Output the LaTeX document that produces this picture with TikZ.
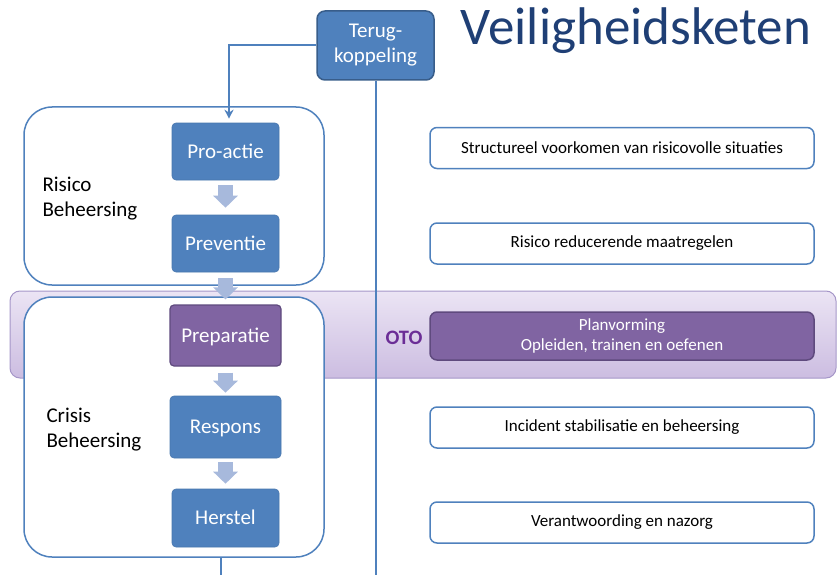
\documentclass[tikz,border=0pt]{standalone}
\usepackage{fontspec}
\setmainfont{Carlito}
\usetikzlibrary{arrows.meta, positioning}
\definecolor{ketblue}{HTML}{4F81BD}
\definecolor{ketdark}{HTML}{385D8A}
\definecolor{ketnavy}{HTML}{1F3F75}
\definecolor{ketlight}{HTML}{A7B9DC}
\definecolor{otopurple}{HTML}{8064A2}
\definecolor{otodark}{HTML}{5F4A7E}
\definecolor{ototext}{HTML}{6B2D96}
\definecolor{bandtop}{HTML}{EBE4F4}
\definecolor{bandbot}{HTML}{CCBDE1}
\definecolor{bandedge}{HTML}{A596C8}

\begin{document}
\begin{tikzpicture}[
  x=1pt, y=-1pt,
  >=Stealth,
  phase/.style={
    rectangle, rounded corners=4pt, fill=ketblue, draw=ketblue!92!black,
    line width=0.6pt, text=white, minimum width=107pt, minimum height=57pt,
    font=\fontsize{21}{25}\selectfont, inner sep=0pt, text depth=1pt
  },
  prep/.style={phase, fill=otopurple, draw=otodark, line width=1.2pt},
  group/.style={
    rectangle, rounded corners=28pt, draw=ketblue, fill=white,
    line width=1.5pt, minimum width=300pt, inner sep=0pt
  },
  desc/.style={
    rectangle, rounded corners=7pt, draw=ketblue, fill=white,
    line width=1.5pt, minimum width=384pt, minimum height=41pt,
    font=\fontsize{17}{20}\selectfont, align=center, inner sep=0pt
  },
  grouplabel/.style={anchor=west, align=left, font=\fontsize{21}{25}\selectfont},
  flow/.style={draw=ketlight, line width=15pt, -{Triangle[width=24pt, length=12pt]}},
  link/.style={draw=ketblue, line width=2pt},
]

\useasboundingbox (0,0) rectangle (837,575);

% OTO band behind everything
\node[rectangle, rounded corners=10pt, top color=bandtop, bottom color=bandbot,
      draw=bandedge, line width=1pt, minimum width=826pt, minimum height=87pt]
  (band) at (423,334.5) {};

% feedback box and its line
\node[rectangle, rounded corners=8pt, fill=ketblue, draw=ketdark, line width=1.5pt,
      text=white, minimum width=117pt, minimum height=69pt, align=center,
      font=\fontsize{21}{25}\selectfont, inner sep=0pt]
  (terug) at (375.5,45.5) {Terug-\\koppeling};
\coordinate (bottomT) at (375.5,575);
\draw[link] (terug.south) -- (bottomT);

% the two groups
\node[group, minimum height=178pt] (risico) at (174,196) {};
\node[group, minimum height=260pt] (crisis) at (174,427) {};

\coordinate (bottomH) at (221,575);
\draw[link] (bottomH |- crisis.south) -- (bottomH);

\node[grouplabel] (risicoL) at (39,199) {Risico\\Beheersing};
\node[grouplabel] (crisisL) at (43,430) {Crisis\\Beheersing};

% 1. the chain
\node[phase] (proactie)   at (225.5,151.5) {Pro-actie};
\node[phase] (preventie)  at (225.5,243.5) {Preventie};
\node[prep, minimum width=111pt, minimum height=61pt] (preparatie) at (225.5,335.5) {Preparatie};
\node[phase, minimum width=111pt, minimum height=62pt] (respons)    at (225.5,427) {Respons};
\node[phase, minimum height=58pt] (herstel)    at (225.5,518) {Herstel};

% 2. block arrows
\draw[flow, shorten <=5pt, shorten >=7pt] (proactie) -- (preventie);
\draw[flow, shorten <=6pt, shorten >=5pt] (preventie) -- (preparatie);
\draw[flow, shorten <=6pt, shorten >=3pt] (preparatie) -- (respons);
\draw[flow, shorten <=4pt, shorten >=5pt] (respons) -- (herstel);

% 3. feedback back to the start
\draw[link, -{Stealth[length=9pt, width=9pt]}, shorten >=4pt]
  (terug.west) -| ([xshift=3.5pt]proactie.north);

% 4. descriptions
\node[desc] (struct)  at (622,148)   {Structureel voorkomen van risicovolle situaties};
\node[desc] (reduc)   at (622,243.5) {Risico reducerende maatregelen};
\node[desc, fill=otopurple, draw=otodark, text=white, minimum height=48pt]
  (plan) at (622,336) {Planvorming\\Opleiden, trainen en oefenen};
\node[desc] (incid)   at (622,427.5) {Incident stabilisatie en beheersing};
\node[desc] (verant)  at (622,522.5) {Verantwoording en nazorg};

\node[text=ototext, font=\fontsize{20.5}{24}\selectfont\bfseries] (oto) at (404,338) {OTO};

% title
\node[text=ketnavy, anchor=base, font=\fontsize{53}{60}\selectfont, inner sep=0pt]
  (titel) at (636,45) {Veiligheidsketen};

\end{tikzpicture}
\end{document}
